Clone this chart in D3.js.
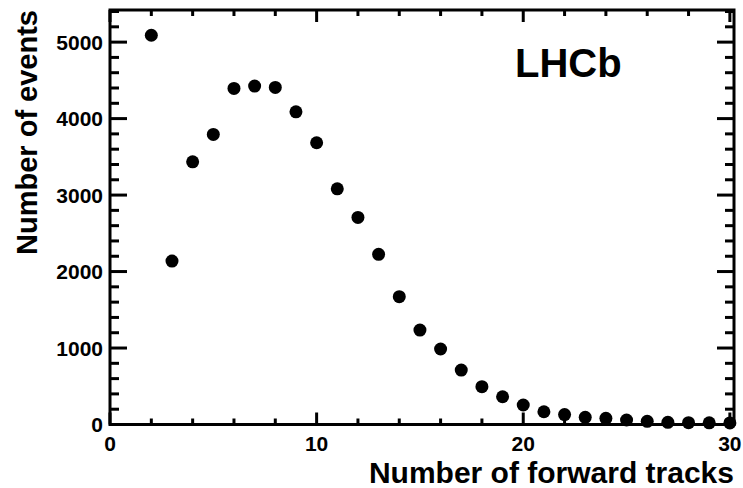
<!DOCTYPE html>
<html>
<head>
<meta charset="utf-8">
<script src="https://cdn.jsdelivr.net/npm/d3@7"></script>
<style>
  html, body { margin: 0; padding: 0; background: #fff; }
  svg { display: block; }
  text { font-family: "Liberation Sans", Arial, Helvetica, sans-serif; font-weight: bold; fill: #000; }
</style>
</head>
<body>
<svg id="chart" width="743" height="488"></svg>
<script>
// Number of forward tracks per event
const tracks = [2, 3, 4, 5, 6, 7, 8, 9, 10, 11, 12, 13, 14, 15, 16, 17, 18, 19, 20,
                21, 22, 23, 24, 25, 26, 27, 28, 29, 30];
const events = [5090, 2137, 3435, 3793, 4395, 4425, 4408, 4089, 3684, 3082, 2708, 2225, 1671,
                1235, 987, 712, 494, 363, 255, 167, 130, 94, 81, 59, 42, 29, 24, 22, 20];

const xTicks = [0, 10, 20, 30];
const yTicks = [0, 1000, 2000, 3000, 4000, 5000];
const xDomain = [0, 30.2];
const yDomain = [0, 5420];

const plot = { left: 110, right: 734, top: 10, bottom: 424.5 };

const svg = d3.select("#chart");

const x = d3.scaleLinear().domain(xDomain).range([plot.left, plot.right]);
const y = d3.scaleLinear().domain(yDomain).range([plot.bottom, plot.top]);

const xMinor = d3.range(0, 30.01, 2).filter(v => !xTicks.includes(v));
const yMinor = d3.range(0, 5401, 200).filter(v => !yTicks.includes(v));

const g = svg.append("g");

// Ticks on all four sides, pointing into the frame
function tickLines(values, len, side) {
  values.forEach(v => {
    let x1, y1, x2, y2;
    if (side === "bottom") { x1 = x2 = x(v); y1 = plot.bottom; y2 = plot.bottom - len; }
    if (side === "top")    { x1 = x2 = x(v); y1 = plot.top;    y2 = plot.top + len; }
    if (side === "left")   { y1 = y2 = y(v); x1 = plot.left;   x2 = plot.left + len; }
    if (side === "right")  { y1 = y2 = y(v); x1 = plot.right;  x2 = plot.right - len; }
    g.append("line").attr("x1", x1).attr("y1", y1).attr("x2", x2).attr("y2", y2)
      .attr("stroke", "#000").attr("stroke-width", 3);
  });
}
tickLines(xTicks, 12, "bottom"); tickLines(xMinor, 6, "bottom");
tickLines(xTicks, 12, "top");    tickLines(xMinor, 6, "top");
tickLines(yTicks, 17, "left");   tickLines(yMinor, 9, "left");
tickLines(yTicks, 17, "right");  tickLines(yMinor, 9, "right");

// Frame
g.append("rect")
  .attr("x", plot.left).attr("y", plot.top)
  .attr("width", plot.right - plot.left).attr("height", plot.bottom - plot.top)
  .attr("fill", "none").attr("stroke", "#000").attr("stroke-width", 3);

// Tick labels
g.selectAll(".xl").data(xTicks).enter().append("text")
  .attr("x", d => x(d)).attr("y", 451)
  .attr("text-anchor", "middle").attr("font-size", 21)
  .text(d => d);

g.selectAll(".yl").data(yTicks).enter().append("text")
  .attr("x", 103).attr("y", d => y(d) + 7.5)
  .attr("text-anchor", "end").attr("font-size", 21)
  .text(d => d);

// Axis titles
g.append("text")
  .attr("x", 734).attr("y", 483)
  .attr("text-anchor", "end").attr("font-size", 30)
  .text("Number of forward tracks");

g.append("text")
  .attr("transform", "translate(37,10) rotate(-90)")
  .attr("text-anchor", "end").attr("font-size", 29)
  .text("Number of events");

// Experiment label
g.append("text")
  .attr("x", 515).attr("y", 77)
  .attr("font-size", 40)
  .text("LHCb");

// Data points
g.selectAll("circle").data(tracks).enter().append("circle")
  .attr("cx", (d) => x(d))
  .attr("cy", (d, i) => y(events[i]))
  .attr("r", 6.5)
  .attr("fill", "#000");
</script>
</body>
</html>
